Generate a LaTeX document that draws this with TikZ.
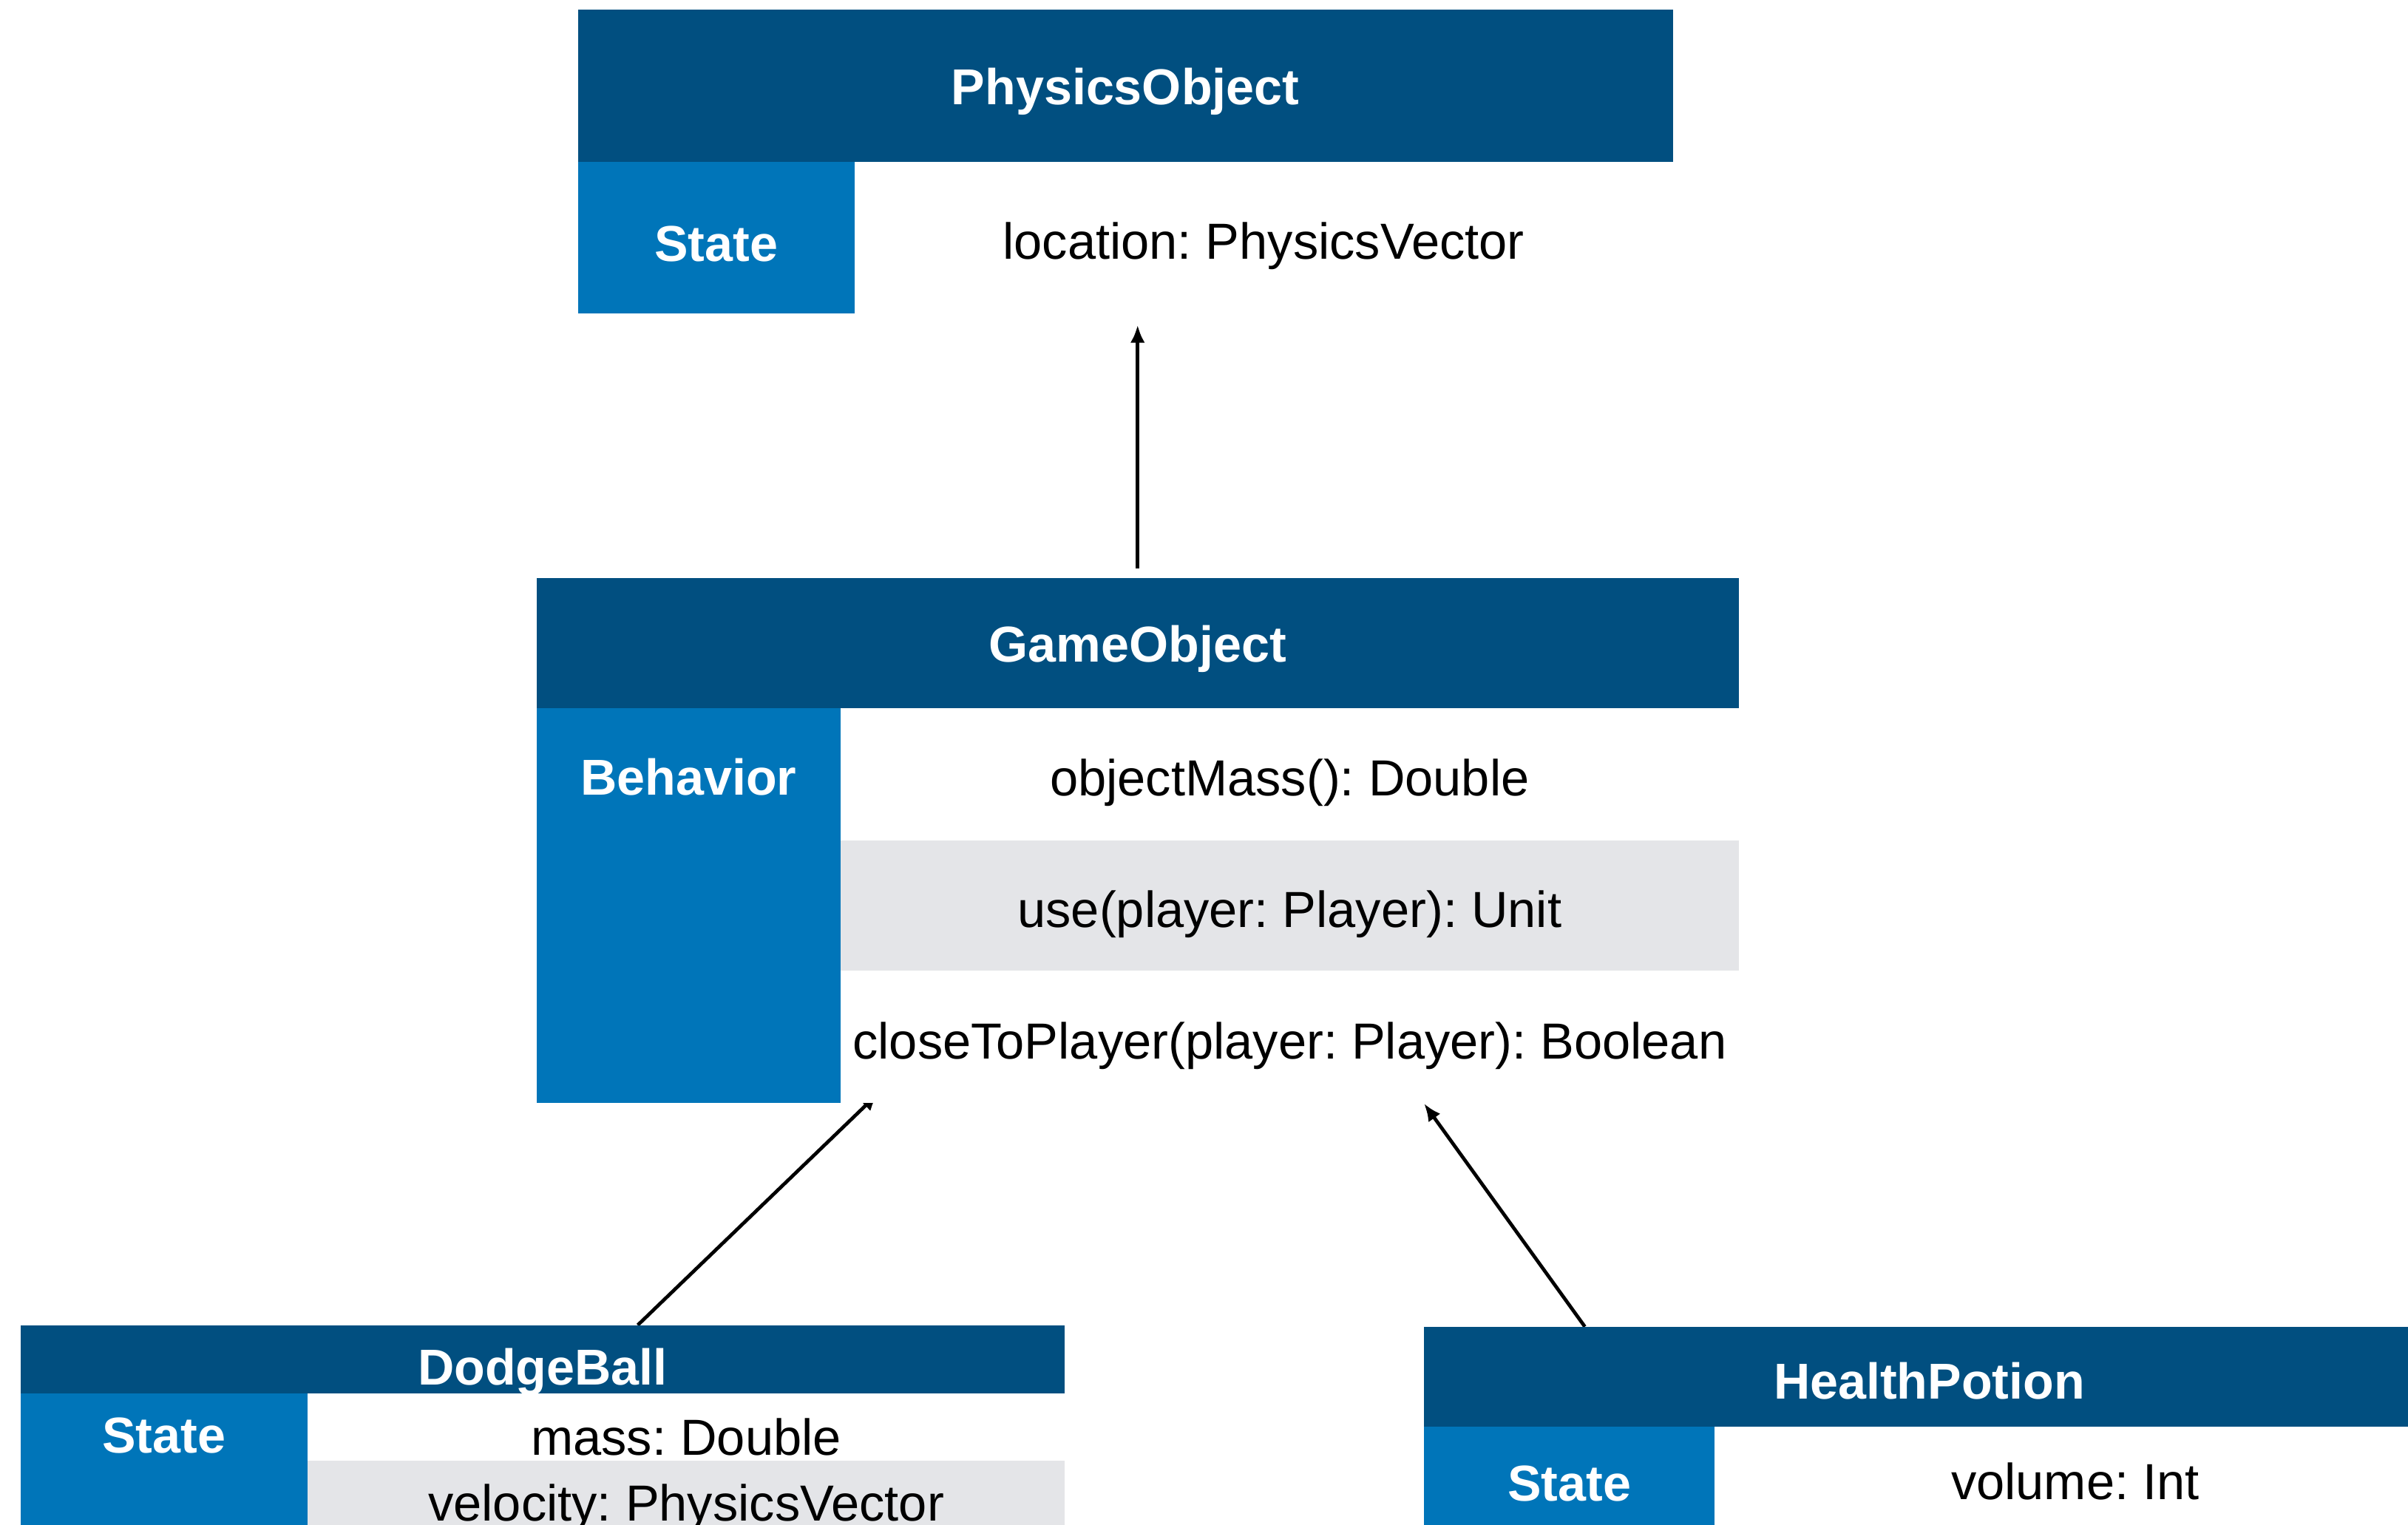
\documentclass[tikz,border=0pt]{standalone}
\usepackage{fontspec}
\setmainfont{Liberation Sans}
\usetikzlibrary{arrows.meta,backgrounds}
\definecolor{headblue}{RGB}{1,79,128}
\definecolor{sideblue}{RGB}{0,117,185}
\definecolor{rowgrey}{RGB}{228,229,232}
\frenchspacing

\begin{document}
\begin{tikzpicture}
        [
            x=0.02cm, y=-0.02cm,
            HeadNode/.style=
            {rectangle, fill=headblue, text=white, anchor=north west,
            inner sep=0pt, text height=15.2pt, text depth=1pt,
            font=\fontsize{18.7}{22}\selectfont\bfseries},
            SideNode/.style=
            {rectangle, fill=sideblue, text=white, anchor=north west,
            inner sep=0pt, text height=18.2pt, text depth=1pt,
            font=\fontsize{18.7}{22}\selectfont\bfseries},
            SideText/.style=
            {anchor=center, text=white, inner sep=0pt,
            font=\fontsize{18.7}{22}\selectfont\bfseries},
            RowNode/.style=
            {rectangle, fill=white, anchor=north west,
            inner sep=0pt, text height=17pt, text depth=1pt,
            font=\fontsize{18.8}{22}\selectfont},
            GreyNode/.style=
            {RowNode, fill=rowgrey},
            Link/.style=
            {-{Latex[length=0.23cm,width=0.19cm]}, line width=1.3pt}
        ]
            \useasboundingbox (0,0) rectangle (1568,993);

            \node[HeadNode, minimum width=14.26cm, minimum height=1.98cm] (physHead) at (376,6) {PhysicsObject};
            \node[SideNode, minimum width=3.6cm, minimum height=1.98cm] (physState) at (376,105) {State};
            \node[RowNode, minimum width=10.66cm, minimum height=1.98cm] (physLoc) at (556,105) {location: PhysicsVector};

            \node[HeadNode, minimum width=15.66cm, minimum height=1.7cm] (gameHead) at (349,376) {GameObject};
            \node[SideNode, minimum width=3.96cm, minimum height=5.14cm,
                label={[SideText, yshift=-0.9cm]north:Behavior}] (gameBeh) at (349,461) {};
            \node[RowNode, minimum width=11.7cm, minimum height=1.72cm] (gameRow1) at (547,461) {objectMass(): Double};
            \node[GreyNode, minimum width=11.7cm, minimum height=1.7cm] (gameRow2) at (547,547) {use(player: Player): Unit};
            \node[RowNode, minimum width=11.7cm, minimum height=1.72cm] (gameRow3) at (547,632) {closeToPlayer(player: Player): Boolean};

            \node[HeadNode, minimum width=13.6cm, minimum height=0.88cm, text height=19.8pt] (dodgeHead) at (13,863) {DodgeBall};
            \node[SideNode, minimum width=3.74cm, minimum height=1.9cm,
                label={[SideText, yshift=-0.56cm]north:State}] (dodgeState) at (13,907) {};
            \node[RowNode, minimum width=9.86cm, minimum height=0.88cm, text height=21.6pt] (dodgeMass) at (200,907) {mass: Double};
            \node[GreyNode, minimum width=9.86cm, minimum height=1.0cm] (dodgeVel) at (200,951) {velocity: PhysicsVector};

            \node[HeadNode, minimum width=13.16cm, minimum height=1.3cm, text height=17pt] (healHead) at (927,864) {HealthPotion};
            \node[SideNode, minimum width=3.78cm, minimum height=1.44cm, text height=14.6pt] (healState) at (927,929) {State};
            \node[RowNode, minimum width=9.4cm, minimum height=1.44cm, text height=13.6pt] (healVol) at (1116,929) {volume: Int};

            \begin{scope}[on background layer]
                \draw[Link, shorten <=0.12cm, shorten >=0.14cm] (gameHead.north) -- (gameHead.north |- physLoc.south);
                \draw[Link, shorten >=-0.19cm] ([xshift=1.24cm]dodgeHead.north) -- ([xshift=0.36cm]gameRow3.south west);
                \draw[Link] ([xshift=2.1cm]healHead.north west) -- ([xshift=1.75cm]gameRow3.south);
            \end{scope}
    \end{tikzpicture}
\end{document}
